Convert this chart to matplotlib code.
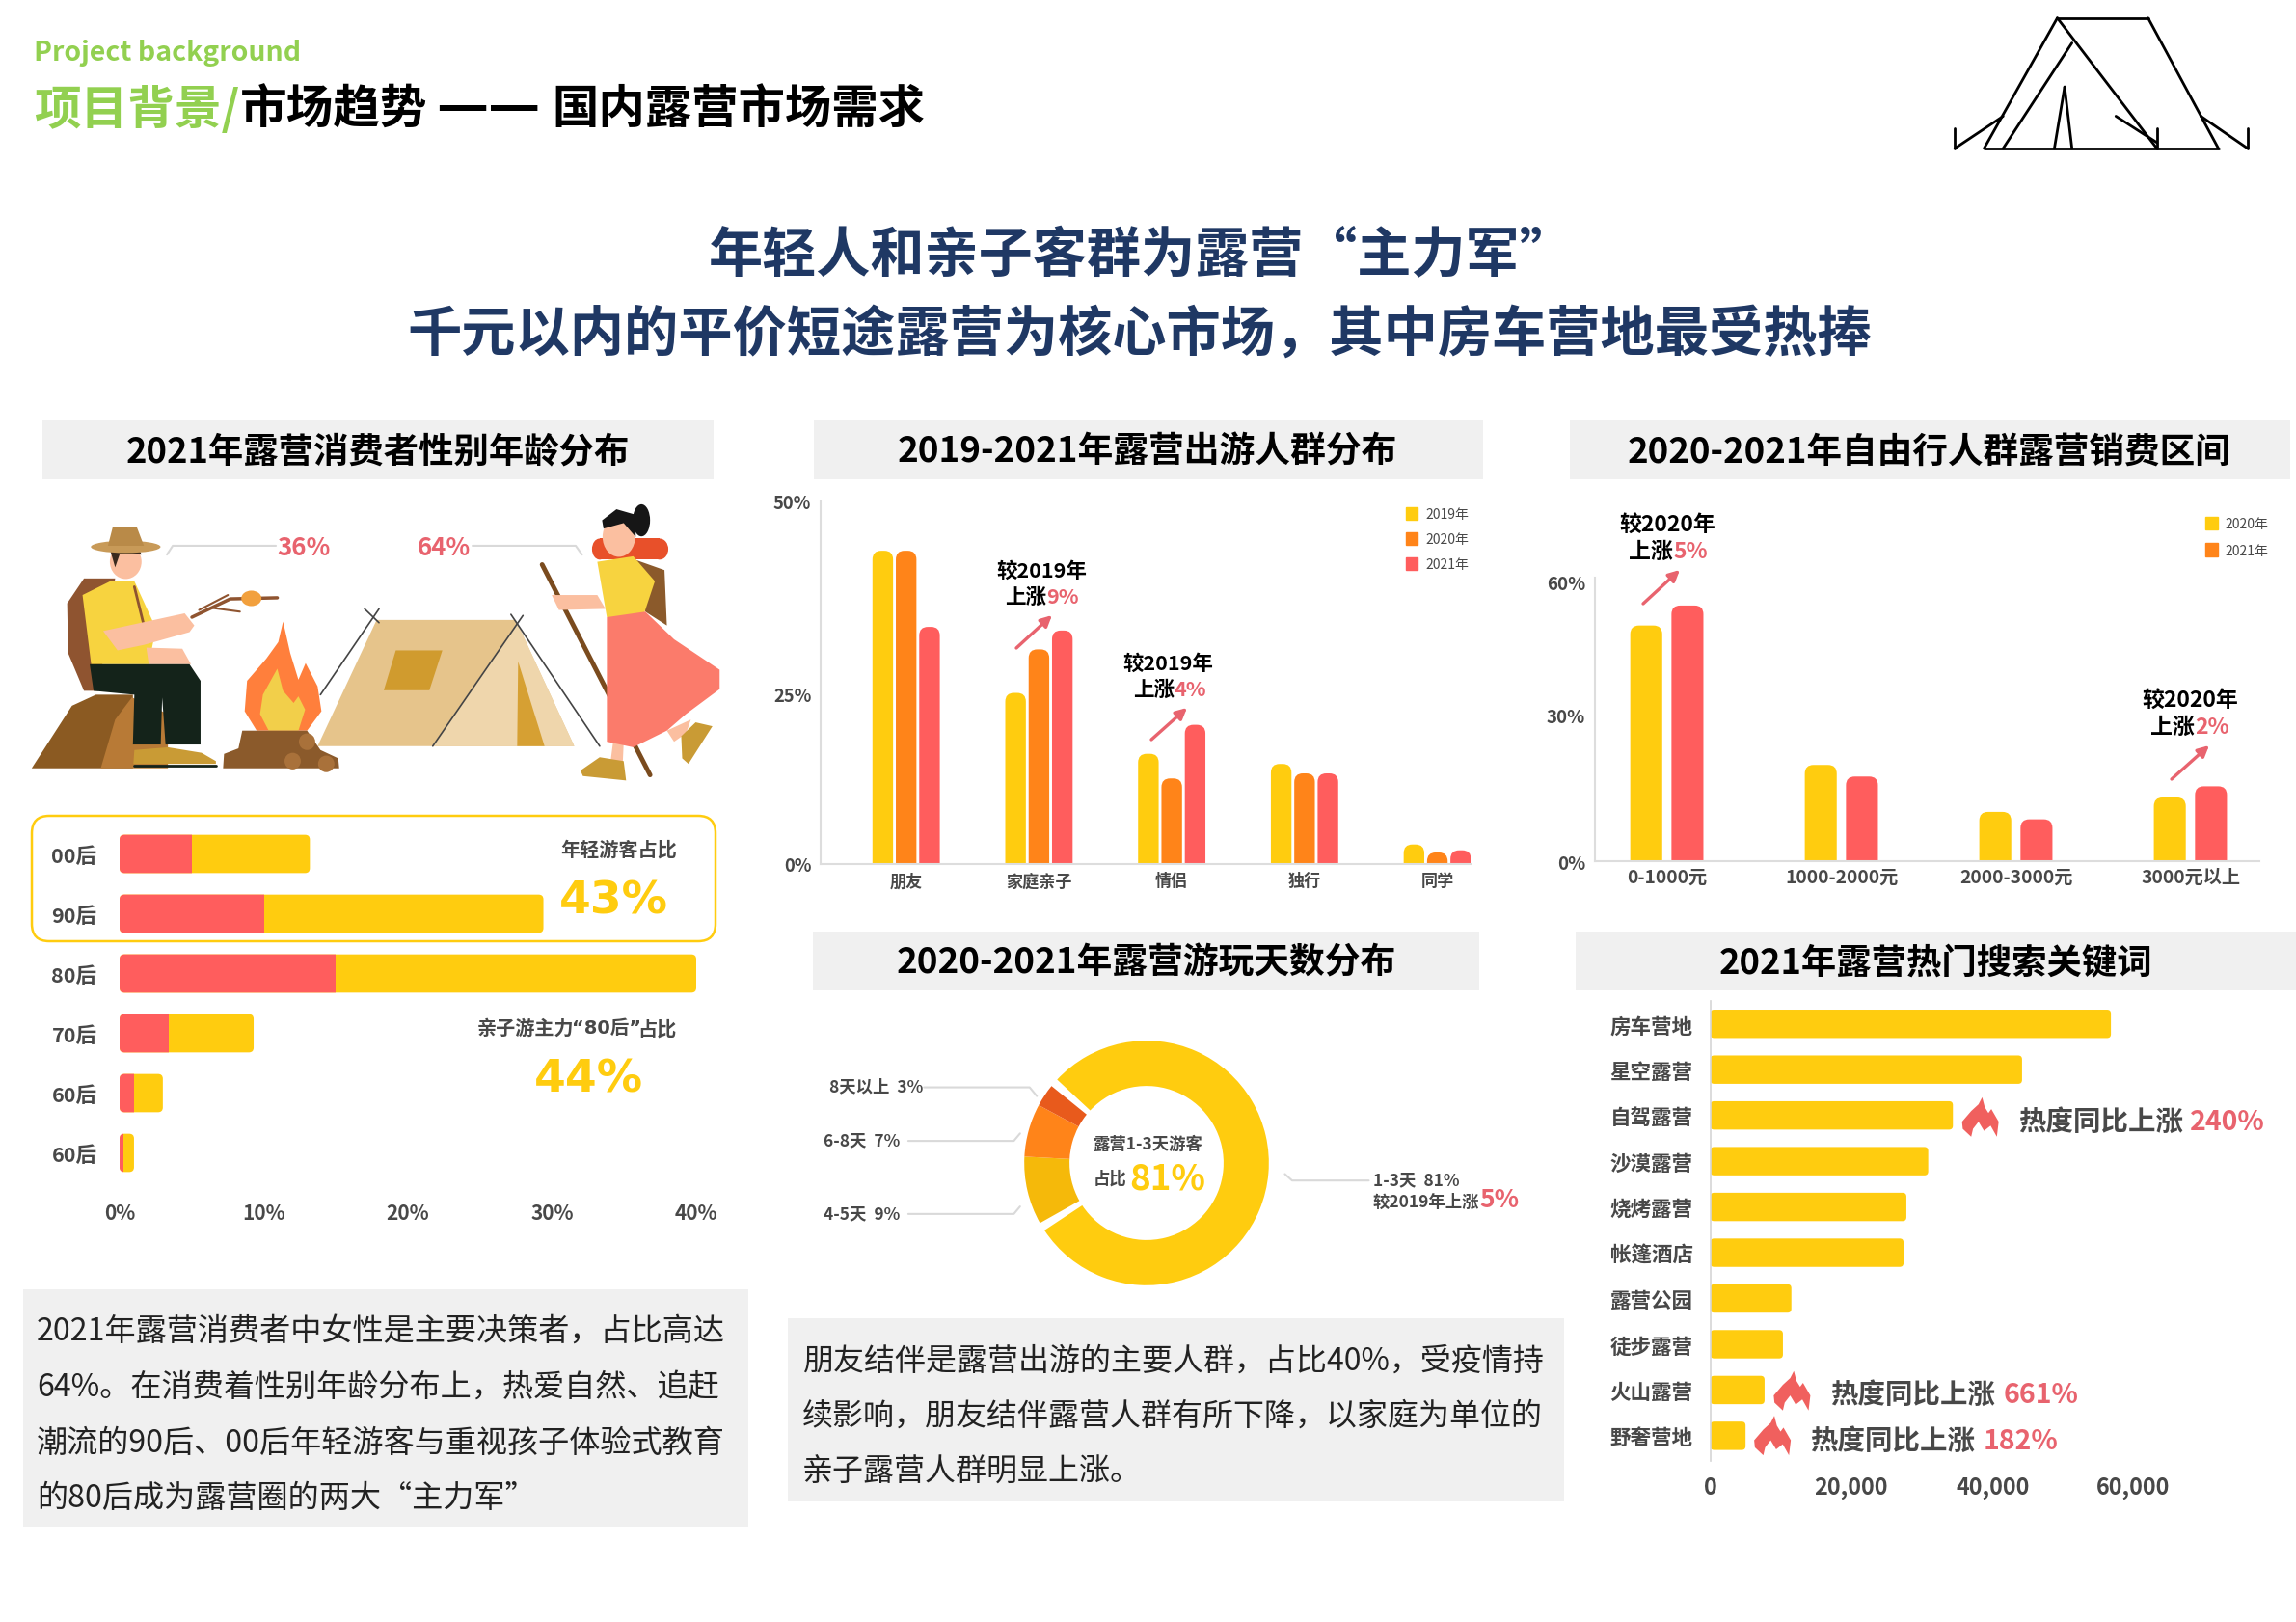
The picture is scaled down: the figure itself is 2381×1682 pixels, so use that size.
#!/usr/bin/env python3
# -*- coding: utf-8 -*-

import matplotlib
matplotlib.use('Agg')
import matplotlib.pyplot as plt
from matplotlib.patches import FancyBboxPatch, Rectangle, Polygon, Ellipse, Patch

plt.rcParams['font.family'] = ['Noto Sans CJK SC', 'DejaVu Sans']

W, H = 2381, 1683

# --------------------------
# data
# --------------------------
age_labels = ['00后', '90后', '80后', '70后', '60后', '60后']
age_red = [5, 10, 15, 3.4, 1, 0.3]
age_yellow = [8.2, 19.4, 25, 5.9, 2, 0.7]
age_ticks = [0, 10, 20, 30, 40]
age_tick_labels = ['0%', '10%', '20%', '30%', '40%']

crowd_labels = ['朋友', '家庭亲子', '情侣', '独行', '同学']
crowd_2019 = [43.2, 23.6, 15.2, 13.8, 2.7]
crowd_2020 = [43.2, 29.6, 11.8, 12.5, 1.6]
crowd_2021 = [32.7, 32.2, 19.2, 12.5, 1.9]
# the axis labels sit off the linear spot in the original
crowd_ticks = [0, 23.5, 50]
crowd_tick_labels = ['0%', '25%', '50%']

spend_labels = ['0-1000元', '1000-2000元', '2000-3000元', '3000元以上']
spend_2020 = [50.7, 20.7, 10.6, 13.7]
spend_2021 = [55, 18.2, 9, 16.1]
spend_ticks = [0, 31.4, 60]
spend_tick_labels = ['0%', '30%', '60%']

days_values = [81, 9, 7, 3]

keyword_labels = ['房车营地', '星空露营', '自驾露营', '沙漠露营', '烧烤露营',
                  '帐篷酒店', '露营公园', '徒步露营', '火山露营', '野奢营地']
keyword_values = [56800, 44200, 34400, 30900, 27800, 27400, 11500, 10300, 7700, 5000]
keyword_ticks = [0, 20000, 40000, 60000]
keyword_tick_labels = ['0', '20,000', '40,000', '60,000']

left_text = ['2021年露营消费者中女性是主要决策者，占比高达',
             '64%。在消费着性别年龄分布上，热爱自然、追赶',
             '潮流的90后、00后年轻游客与重视孩子体验式教育',
             '的80后成为露营圈的两大“主力军”']
right_text = ['朋友结伴是露营出游的主要人群，占比40%，受疫情持',
              '续影响，朋友结伴露营人群有所下降，以家庭为单位的',
              '亲子露营人群明显上涨。']

YELLOW = '#FFCC0F'
ORANGE = '#FF8419'
RED = '#FF5D5D'
PINK = '#E8636E'
GRAY_BG = '#F0F0F0'
TXT = '#484848'
GREEN = '#92D050'
NAVY = '#1F3864'

fig = plt.figure(figsize=(W / 100, H / 100), dpi=100, facecolor='white')


def add_ax(x0, y0, x1, y1):
    ax = fig.add_axes([x0 / W, 1 - y1 / H, (x1 - x0) / W, (y1 - y0) / H])
    ax.patch.set_alpha(0)
    return ax


def radii(ax, r):
    # pixel radius -> data units
    o = ax.transData.transform((0, 0))
    p = ax.transData.transform((1, 1))
    return r / abs(p[0] - o[0]), r / abs(p[1] - o[1])


def round_bars(ax, bars, r, top_only=False):
    rx, ry = radii(ax, r)
    for rect in list(bars):
        x, y, w, h = rect.get_x(), rect.get_y(), rect.get_width(), rect.get_height()
        if top_only:
            y -= ry
            h += ry
        ax.add_patch(FancyBboxPatch((x, y), w, h,
                                    boxstyle=f'round,pad=0,rounding_size={rx}',
                                    mutation_aspect=ry / rx,
                                    fc=rect.get_facecolor(), ec='none'))
        rect.remove()


def style_ticks(ax, xsize, ysize, padx, pady):
    ax.tick_params(axis='x', length=0, labelsize=xsize, pad=padx, labelcolor=TXT)
    ax.tick_params(axis='y', length=0, labelsize=ysize, pad=pady, labelcolor=TXT)
    for lab in ax.get_xticklabels() + ax.get_yticklabels():
        lab.set_fontweight('bold')


# --------------------------
# panel 1 stacked age bars
# --------------------------
ax1 = add_ax(124, 855.5, 722, 1227.5)
age_y = list(range(len(age_labels)))
totals = [a + b for a, b in zip(age_red, age_yellow)]
bh = 0.64
b_red = ax1.barh(age_y, age_red, height=bh, color=RED)
b_yel = ax1.barh(age_y, age_yellow, left=age_red, height=bh, color=YELLOW)
ax1.set_xlim(0, 40)
ax1.set_ylim(5.5, -0.5)
ax1.set_xticks(age_ticks, age_tick_labels)
ax1.set_yticks(age_y, age_labels)
for s in ax1.spines.values():
    s.set_visible(False)
style_ticks(ax1, 15, 15.5, 15, 17)
rx, ry = radii(ax1, 5)
for i, (rr, ry_b) in enumerate(zip(list(b_red), list(b_yel))):
    y, h = rr.get_y(), rr.get_height()
    for col, clip_w in ((YELLOW, None), (RED, age_red[i])):
        p = FancyBboxPatch((0, y), totals[i], h,
                           boxstyle=f'round,pad=0,rounding_size={rx}',
                           mutation_aspect=ry / rx, fc=col, ec='none')
        ax1.add_patch(p)
        if clip_w is not None:
            p.set_clip_path(Rectangle((0, y - 0.1), clip_w, h + 0.2, transform=ax1.transData))
    rr.remove()
    ry_b.remove()

# --------------------------
# panel 2 grouped bars
# --------------------------
ax2 = add_ax(851, 521, 1525, 897)
cx = list(range(len(crowd_labels)))
off, bw = 0.176, 0.155
b1 = ax2.bar([c - off for c in cx], crowd_2019, bw, color=YELLOW)
b2 = ax2.bar(cx, crowd_2020, bw, color=ORANGE)
b3 = ax2.bar([c + off for c in cx], crowd_2021, bw, color=RED)
ax2.set_xlim(-0.644, 4.25)
ax2.set_ylim(0, 50)
ax2.set_xticks(cx, crowd_labels)
ax2.set_yticks(crowd_ticks, crowd_tick_labels)
for s in ('top', 'right'):
    ax2.spines[s].set_visible(False)
for s in ('left', 'bottom'):
    ax2.spines[s].set_color('#DDDDDD')
    ax2.spines[s].set_linewidth(1.5)
style_ticks(ax2, 12.3, 13.2, 6, 7)
for b in (b1, b2, b3):
    round_bars(ax2, b, 9, top_only=True)
ax2.legend(handles=[Patch(color=YELLOW), Patch(color=ORANGE), Patch(color=RED)],
           labels=['2019年', '2020年', '2021年'], loc='upper left', frameon=False,
           bbox_to_anchor=(1458 / W, 1 - 527 / H), bbox_transform=fig.transFigure,
           fontsize=10, labelcolor=TXT, handlelength=0.9, handleheight=1.1,
           handletextpad=0.6, labelspacing=0.83, borderpad=0, borderaxespad=0)

# --------------------------
# panel 3 grouped bars
# --------------------------
ax3 = add_ax(1654, 600, 2343, 894)
sx = list(range(len(spend_labels)))
off, bw = 0.118, 0.183
s1 = ax3.bar([c - off for c in sx], spend_2020, bw, color=YELLOW)
s2 = ax3.bar([c + off for c in sx], spend_2021, bw, color=RED)
ax3.set_xlim(-0.412, 3.395)
ax3.set_ylim(0, 61)
ax3.set_xticks(sx, spend_labels)
ax3.set_yticks(spend_ticks, spend_tick_labels)
for s in ('top', 'right'):
    ax3.spines[s].set_visible(False)
for s in ('left', 'bottom'):
    ax3.spines[s].set_color('#DDDDDD')
    ax3.spines[s].set_linewidth(1.5)
style_ticks(ax3, 13.8, 13.5, 4.5, 7)
for b in (s1, s2):
    round_bars(ax3, b, 9, top_only=True)
# legend swatch for 2021 is orange in the original, bars are red
ax3.legend(handles=[Patch(color=YELLOW), Patch(color=ORANGE)],
           labels=['2020年', '2021年'], loc='upper left', frameon=False,
           bbox_to_anchor=(2287 / W, 1 - 537 / H), bbox_transform=fig.transFigure,
           fontsize=10, labelcolor=TXT, handlelength=0.9, handleheight=1.1,
           handletextpad=0.6, labelspacing=0.92, borderpad=0, borderaxespad=0)

# --------------------------
# panel 4 donut
# --------------------------
ax4 = add_ax(1189 - 139.5, 1207 - 139.5, 1189 + 139.5, 1207 + 139.5)
wedges, _ = ax4.pie(days_values, startangle=141, counterclock=False, radius=1,
                    colors=[YELLOW, '#F5B90A', ORANGE, '#E85A1C'],
                    wedgeprops=dict(width=0.37, linewidth=0))
ax4.set_xlim(-1.1, 1.1)
ax4.set_ylim(-1.1, 1.1)
# white gaps either side of the big slice
wedges[0].set_theta1(wedges[0].theta1 + 4)
wedges[0].set_theta2(wedges[0].theta2 - 4)

# --------------------------
# panel 5 keyword bars
# --------------------------
ax5 = add_ax(1773.6, 1039, 2320, 1516)
ky = list(range(len(keyword_labels)))
k_bars = ax5.barh(ky, keyword_values, height=0.62, color=YELLOW)
ax5.set_xlim(0, 60000 * (2320 - 1773.6) / (2212.5 - 1773.6))
ax5.set_ylim(9.55, -0.5)
ax5.set_xticks(keyword_ticks, keyword_tick_labels)
ax5.set_yticks(ky, keyword_labels)
for s in ('top', 'right', 'bottom'):
    ax5.spines[s].set_visible(False)
ax5.spines['left'].set_color('#D5D5D5')
ax5.spines['left'].set_linewidth(1.2)
style_ticks(ax5, 16.8, 15.5, 11, 13)
round_bars(ax5, k_bars, 4)

# --------------------------
# page layer (pixel coords)
# --------------------------
ov = fig.add_axes([0, 0, 1, 1], zorder=5)
ov.set_xlim(0, W)
ov.set_ylim(H, 0)
ov.axis('off')
ov.patch.set_alpha(0)


def T(x, y, s, size, color='black', weight='bold', ha='left', va='center', **kw):
    # va=center sits a little high for the CJK font
    return ov.text(x, y + size * 0.11, s, fontsize=size, color=color, fontweight=weight,
                   ha=ha, va=va, **kw)


def gray_box(x0, y0, x1, y1):
    ov.add_patch(Rectangle((x0, y0), x1 - x0, y1 - y0, fc=GRAY_BG, ec='none', zorder=0))


def leader(pts, color='#D9D9D9', lw=1.5):
    ov.plot([p[0] for p in pts], [p[1] for p in pts], color=color, lw=lw, solid_capstyle='round')


def arrow(p0, p1):
    ov.annotate('', xy=p1, xytext=p0,
                arrowprops=dict(arrowstyle='-|>', color=PINK, lw=2.4, mutation_scale=17,
                                shrinkA=0, shrinkB=0))


# header
T(35, 53, 'Project background', 20.5, GREEN)
T(35, 110, '项目背景/', 35, GREEN, weight='black')
T(249, 110, '市场趋势', 35, weight='black')
T(452, 107, '——', 43, weight='black')
T(572, 110, '国内露营市场需求', 34.8, weight='black')
T(735, 261, '年轻人和亲子客群为露营', 40.4, NAVY, weight='black')
T(1351, 261, '“主力军”', 40.4, NAVY, weight='black')
T(1182, 343, '千元以内的平价短途露营为核心市场，其中房车营地最受热捧', 40.5, NAVY, weight='black', ha='center')

# tent icon, top right
for (x0, y0, x1, y1) in [(1405, 13, 1467, 13), (1467, 13, 1515, 102), (1355, 102, 1515, 102),
                         (1405, 13, 1355, 102), (1405, 13, 1473, 102), (1415, 30, 1368, 102),
                         (1410, 60, 1403, 102), (1410, 60, 1415, 102), (1335, 102, 1368, 80),
                         (1335, 88, 1335, 102), (1535, 102, 1503, 80), (1535, 88, 1535, 102),
                         (1445, 80, 1473, 98), (1473, 88, 1473, 102)]:
    ov.plot([x0 * 1.5185, x1 * 1.5185], [y0 * 1.5185, y1 * 1.5185], color='black', lw=2,
            solid_capstyle='round')

# section titles
gray_box(44, 437, 740, 498)
gray_box(844, 437, 1538, 498)
gray_box(1628, 437, 2375, 498)
gray_box(843, 967, 1534, 1028)
gray_box(1634, 967, 2381, 1028)
T(392, 466, '2021年露营消费者性别年龄分布', 26.2, ha='center')
T(1190, 466, '2019-2021年露营出游人群分布', 26.5, ha='center')
T(2001, 466, '2020-2021年自由行人群露营销费区间', 26.4, ha='center')
T(1189, 996, '2020-2021年露营游玩天数分布', 26.5, ha='center')
T(2007, 996, '2021年露营热门搜索关键词', 26.2, ha='center')


# illustration, traced in the crop's coords
def Z(pts):
    return [(x / 2.01, 420 + y / 1.742) for x, y in pts]


def poly(pts, color, z=1):
    ov.add_patch(Polygon(Z(pts), closed=True, fc=color, ec='none', zorder=z))


def line(pts, color, lw, z=1):
    q = Z(pts)
    ov.plot([p[0] for p in q], [p[1] for p in q], color=color, lw=lw, zorder=z,
            solid_capstyle='round')


def ell(cx_, cy_, w, h, color, z=1):
    (px, py), = Z([(cx_, cy_)])
    ov.add_patch(Ellipse((px, py), w / 2.01, h / 1.742, fc=color, ec='none', zorder=z))


# man
poly([(66, 658), (150, 545), (200, 525), (277, 525), (277, 658)], '#8B5A22')
poly([(210, 658), (240, 570), (275, 530), (350, 560), (350, 658)], '#B87A36')
poly([(140, 360), (175, 315), (240, 315), (205, 518), (175, 518), (142, 450)], '#8F5430')
poly([(172, 345), (230, 320), (280, 320), (325, 405), (310, 470), (190, 470)], '#F7D33F')
line([(280, 330), (300, 400)], '#8F5430', 2, 2)
poly([(240, 345), (275, 380), (225, 440), (190, 400)], '#F7D33F', 3)
poly([(215, 410), (385, 378), (405, 400), (395, 412), (300, 435), (245, 445)], '#FBBFA0', 3)
poly([(305, 440), (380, 442), (398, 470), (310, 470)], '#FBBFA0', 2)
poly([(187, 470), (395, 470), (418, 500), (418, 615), (345, 615), (338, 530), (335, 615),
      (277, 615), (280, 525), (195, 518)], '#14231A', 3)
poly([(280, 625), (350, 620), (420, 630), (450, 645), (450, 650), (278, 650)], '#C99B35', 3)
line([(280, 654), (450, 654)], '#14231A', 2, 3)
ell(262, 285, 66, 62, '#FBBFA0', 4)
poly([(230, 265), (290, 262), (295, 272), (250, 270), (240, 295)], '#3A2A1E', 5)
ell(262, 258, 145, 22, '#C89A58', 6)
poly([(225, 256), (235, 222), (285, 222), (300, 256)], '#B98A48', 6)
line([(400, 385), (480, 352), (578, 350)], '#8F5430', 2.5)
line([(415, 372), (475, 345)], '#8F5430', 1.5)
line([(440, 368), (500, 375)], '#8F5430', 1.5)
ell(524, 351, 42, 28, '#F2A03D', 2)

# fire
poly([(590, 393), (605, 450), (622, 498), (637, 468), (662, 510), (670, 555), (640, 590),
      (535, 590), (510, 555), (515, 500), (555, 460), (580, 430)], '#FF7F3C')
poly([(578, 478), (590, 518), (612, 540), (622, 528), (636, 552), (622, 590), (560, 590),
      (542, 560), (548, 525)], '#F2CF4A', 2)
poly([(505, 590), (640, 590), (668, 625), (705, 640), (707, 658), (465, 658), (467, 632),
      (497, 622)], '#8B5A2B', 3)
for cx_, cy_ in [(640, 610), (610, 645), (680, 650)]:
    ell(cx_, cy_, 34, 30, '#A9713A', 4)

# tent
poly([(785, 390), (1075, 390), (1197, 618), (662, 618)], '#E6C48B')
poly([(1078, 395), (1197, 618), (900, 618)], '#EFD6AC', 2)
poly([(1080, 465), (1135, 618), (1078, 618)], '#D6A033', 3)
poly([(825, 445), (922, 445), (895, 517), (800, 517)], '#D09B2E', 2)
line([(760, 370), (790, 395)], '#444444', 1.2)
line([(790, 370), (668, 525)], '#444444', 1.2)
line([(1065, 380), (1250, 618)], '#444444', 1.2, 3)
line([(1090, 382), (902, 618)], '#444444', 1.2, 3)

# woman
line([(1130, 290), (1355, 670)], '#7A4B1E', 3.5, 2)
poly([(1320, 280), (1385, 300), (1390, 400), (1345, 375)], '#8B5A2B', 2)
ell(1250, 262, 32, 38, '#E8502A', 2)
ell(1375, 262, 36, 38, '#E8502A', 2)
poly([(1250, 243), (1375, 243), (1375, 281), (1250, 281)], '#E8502A', 2)
poly([(1150, 345), (1245, 345), (1262, 370), (1165, 372)], '#FBBFA0', 3)
poly([(1245, 285), (1320, 275), (1365, 320), (1340, 385), (1265, 385)], '#F7D33F', 3)
poly([(1265, 385), (1345, 375), (1405, 425), (1500, 480), (1500, 515), (1430, 560),
      (1390, 590), (1320, 620), (1265, 610)], '#FB7B6B', 3)
poly([(1278, 610), (1300, 612), (1298, 650), (1272, 650)], '#FBBFA0', 2)
poly([(1390, 590), (1440, 570), (1430, 595), (1405, 610)], '#FBBFA0', 2)
poly([(1210, 662), (1250, 638), (1300, 645), (1305, 680), (1215, 672)], '#C99B35', 4)
poly([(1420, 600), (1450, 575), (1485, 582), (1435, 650), (1422, 640)], '#C99B35', 4)
ell(1290, 240, 68, 72, '#FBBFA0', 4)
poly([(1255, 210), (1285, 190), (1325, 200), (1325, 240), (1300, 215), (1258, 225)], '#161616', 5)
ell(1337, 210, 36, 58, '#161616', 5)

# 36 / 64
leader(Z([(348, 272), (360, 256), (575, 256)]))
leader(Z([(985, 256), (1200, 256), (1213, 272)]))
T(315, 566, '36%', 18.5, PINK, ha='center', zorder=6)
T(460, 566, '64%', 18.5, PINK, ha='center', zorder=6)

# highlight frame + callouts on panel 1
ov.add_patch(FancyBboxPatch((33, 847), 709, 130, boxstyle='round,pad=0,rounding_size=18',
                            fc='none', ec=YELLOW, lw=1.8))
WIDE = ['DejaVu Sans', 'Noto Sans CJK SC']
T(642, 879, '年轻游客占比', 14.5, TXT, ha='center')
T(636, 931, '43%', 34, YELLOW, ha='center', family=WIDE)
T(495, 1065, '亲子游主力', 14.5, TXT)
T(629, 1065, '“80后”', 14, TXT, ha='center', family=WIDE)
T(702, 1065, '占比', 14.5, TXT, ha='right')
T(610, 1116, '44%', 34, YELLOW, ha='center', family=WIDE)


# growth notes
def note(cx_, y1, y2, split, top, pct, p0, p1, size):
    T(cx_, y1, top, size, ha='center')
    T(split, y2, '上涨', size, ha='right')
    T(split, y2, pct, size, PINK)
    arrow(p0, p1)


note(1080, 591, 618, 1085, '较2019年', '9%', (1054, 673), (1091, 639), 15.5)
note(1211, 687, 714, 1218, '较2019年', '4%', (1194, 768), (1231, 735), 15.5)
note(1729, 542, 571, 1735, '较2020年', '5%', (1704, 627), (1742, 592), 16.5)
note(2271, 724, 753, 2276, '较2020年', '2%', (2252, 809), (2291, 774), 16.5)


# donut labels
def Z4(pts):
    return [(820 + x / 2.01, 1040 + y / 2.97) for x, y in pts]


leader(Z4([(278, 263), (498, 263), (513, 290)]))
leader(Z4([(245, 428), (465, 428), (478, 405)]))
leader(Z4([(245, 653), (465, 653), (478, 630)]))
leader(Z4([(1030, 530), (1045, 550), (1205, 550)]))
T(860, 1126, '8天以上  3%', 12.5, TXT)
T(854, 1182, '6-8天  7%', 12.5, TXT)
T(854, 1258, '4-5天  9%', 12.5, TXT)
T(1424, 1223, '1-3天  81%', 12.5, TXT)
T(1424, 1245, '较2019年上涨', 12.5, TXT)
T(1534, 1242, '5%', 19, PINK)
T(1190, 1185, '露营1-3天游客', 12.5, TXT, ha='center')
T(1151, 1221, '占比', 12.5, TXT, ha='center')
T(1211, 1220, '81%', 26.5, YELLOW, ha='center')


# flames and heat notes
def flame(cx_, cy_, w, h):
    shape = [(0.55, 0), (0.62, 0.25), (0.72, 0.4), (0.8, 0.3), (1, 0.62), (0.95, 1),
             (0.78, 0.72), (0.6, 0.85), (0.45, 0.62), (0.3, 0.8), (0.25, 1), (0.02, 0.8),
             (0, 0.62), (0.25, 0.35), (0.45, 0.18)]
    pts = [(cx_ + (a - 0.5) * w, cy_ + (b - 0.5) * h) for a, b in shape]
    ov.add_patch(Polygon(pts, closed=True, fc='#F0605E', ec='none', joinstyle='round'))


flame(1640 + 877 / 2.12, 1020 + 390 / 2.8, 38, 41)
flame(1640 + 463 / 2.12, 1020 + 1185 / 2.8, 38, 41)
flame(1640 + 420 / 2.12, 1020 + 1315 / 2.8, 38, 41)
for x_t, x_r, y_t, pct in [(2093, 2271, 1162, '240%'), (1898, 2078, 1445, '661%'),
                           (1877, 2057, 1493, '182%')]:
    T(x_t, y_t, '热度同比上涨', 20.5, TXT)
    T(x_r, y_t, pct, 20.5, PINK)

# text blocks
gray_box(24, 1338, 776, 1585)
gray_box(817, 1368, 1622, 1558)
for s, y in zip(left_text, [1378, 1436, 1494, 1551]):
    T(38, y, s, 23.15, '#222222', weight='light')
for s, y in zip(right_text, [1409, 1466, 1524]):
    T(832, y, s, 23, '#222222', weight='light')

fig.savefig('out.png', dpi=100, facecolor='white')
